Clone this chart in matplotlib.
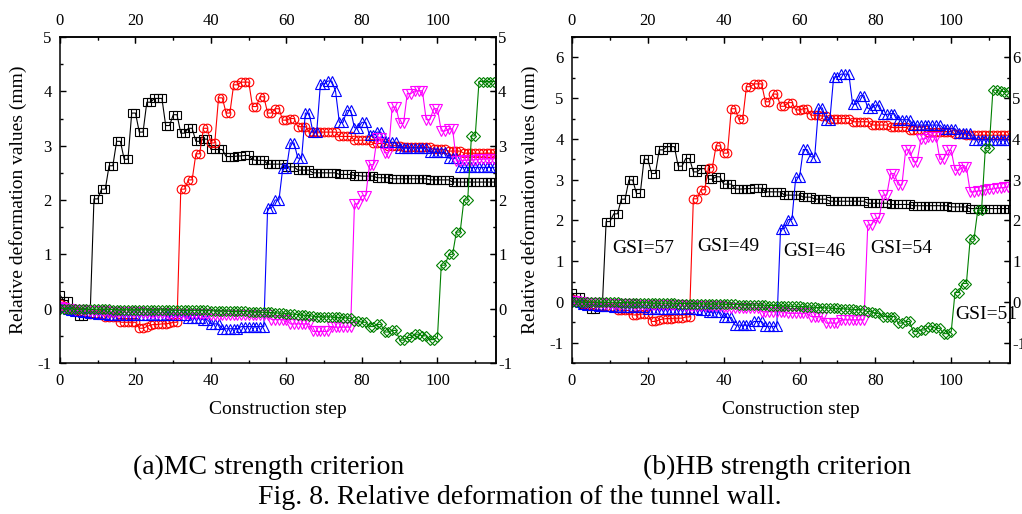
import matplotlib
matplotlib.use("Agg")
import matplotlib.pyplot as plt
from matplotlib.ticker import MultipleLocator

plt.rcParams['font.family'] = ['Liberation Serif', 'DejaVu Serif']
plt.rcParams['axes.unicode_minus'] = False

steps = list(range(116))

# ---------------- (a) MC strength criterion ----------------
mc_black = [
    0.25, 0.15, 0.15, -0.03, -0.05, -0.13, -0.13, -0.08, -0.08, 2.02,
    2.02, 2.20, 2.20, 2.63, 2.63, 3.08, 3.08, 2.75, 2.75, 3.60,
    3.60, 3.25, 3.25, 3.80, 3.80, 3.87, 3.87, 3.87, 3.37, 3.37,
    3.57, 3.57, 3.23, 3.23, 3.32, 3.32, 3.08, 3.08, 3.12, 3.12,
    2.93, 2.93, 2.93, 2.93, 2.80, 2.80, 2.80, 2.81, 2.81, 2.82,
    2.82, 2.74, 2.73, 2.73, 2.73, 2.66, 2.66, 2.66, 2.66, 2.66,
    2.61, 2.61, 2.61, 2.55, 2.55, 2.55, 2.55, 2.50, 2.50, 2.50,
    2.50, 2.50, 2.50, 2.50, 2.47, 2.47, 2.47, 2.47, 2.45, 2.45,
    2.44, 2.44, 2.44, 2.44, 2.41, 2.41, 2.41, 2.41, 2.39, 2.39,
    2.39, 2.39, 2.39, 2.39, 2.39, 2.39, 2.39, 2.39, 2.37, 2.37,
    2.37, 2.37, 2.37, 2.37, 2.33, 2.33, 2.33, 2.33, 2.33, 2.33,
    2.33, 2.33, 2.33, 2.33, 2.33, 2.33]
mc_red = [
    0.08, 0.05, 0.00, -0.03, -0.05, -0.06, -0.07, -0.08, -0.09, -0.09,
    -0.10, -0.10, -0.15, -0.15, -0.15, -0.15, -0.25, -0.25, -0.25, -0.25,
    -0.25, -0.36, -0.36, -0.33, -0.30, -0.29, -0.29, -0.28, -0.28, -0.27,
    -0.25, -0.25, 2.20, 2.20, 2.37, 2.37, 2.85, 2.85, 3.32, 3.32,
    3.05, 3.05, 3.88, 3.88, 3.60, 3.60, 4.12, 4.12, 4.17, 4.17,
    4.17, 3.72, 3.72, 3.90, 3.90, 3.60, 3.60, 3.68, 3.68, 3.47,
    3.47, 3.50, 3.50, 3.35, 3.35, 3.35, 3.25, 3.25, 3.25, 3.25,
    3.25, 3.25, 3.25, 3.25, 3.17, 3.17, 3.17, 3.17, 3.10, 3.10,
    3.10, 3.10, 3.10, 3.04, 3.04, 3.04, 3.04, 3.00, 3.00, 3.00,
    3.00, 2.97, 2.97, 2.97, 2.97, 2.97, 2.97, 2.97, 2.97, 2.93,
    2.93, 2.93, 2.93, 2.90, 2.90, 2.90, 2.90, 2.86, 2.86, 2.86,
    2.86, 2.86, 2.86, 2.86, 2.86, 2.86]
mc_blue = [
    0.05, 0.03, 0.00, -0.03, -0.05, -0.05, -0.06, -0.07, -0.08, -0.08,
    -0.09, -0.10, -0.10, -0.11, -0.11, -0.11, -0.12, -0.12, -0.12, -0.12,
    -0.12, -0.12, -0.12, -0.12, -0.12, -0.12, -0.12, -0.12, -0.12, -0.12,
    -0.12, -0.12, -0.12, -0.12, -0.18, -0.18, -0.18, -0.18, -0.20, -0.20,
    -0.28, -0.28, -0.28, -0.37, -0.37, -0.37, -0.37, -0.37, -0.33, -0.33,
    -0.33, -0.33, -0.33, -0.33, -0.33, 1.85, 1.85, 2.00, 2.00, 2.58,
    2.58, 3.05, 3.05, 2.77, 2.77, 3.60, 3.60, 3.25, 3.25, 4.14,
    4.14, 4.19, 4.19, 4.00, 3.43, 3.43, 3.65, 3.65, 3.33, 3.33,
    3.43, 3.43, 3.19, 3.19, 3.25, 3.25, 3.06, 3.06, 3.06, 3.06,
    2.96, 2.96, 2.96, 2.96, 2.96, 2.96, 2.96, 2.96, 2.88, 2.88,
    2.88, 2.88, 2.88, 2.77, 2.77, 2.77, 2.60, 2.60, 2.60, 2.60,
    2.60, 2.60, 2.60, 2.60, 2.60, 2.60]
mc_magenta = [
    0.03, 0.02, 0.00, -0.01, -0.02, -0.02, -0.03, -0.03, -0.04, -0.04,
    -0.05, -0.05, -0.05, -0.06, -0.06, -0.06, -0.06, -0.07, -0.07, -0.07,
    -0.07, -0.07, -0.08, -0.08, -0.08, -0.08, -0.08, -0.08, -0.08, -0.09,
    -0.09, -0.10, -0.10, -0.10, -0.10, -0.10, -0.10, -0.10, -0.10, -0.10,
    -0.11, -0.11, -0.11, -0.11, -0.11, -0.11, -0.12, -0.12, -0.12, -0.12,
    -0.12, -0.12, -0.12, -0.12, -0.12, -0.12, -0.20, -0.20, -0.20, -0.20,
    -0.20, -0.28, -0.28, -0.28, -0.28, -0.28, -0.28, -0.42, -0.42, -0.42,
    -0.42, -0.42, -0.34, -0.34, -0.34, -0.34, -0.34, -0.34, 1.93, 1.93,
    2.08, 2.08, 2.65, 2.65, 3.15, 3.15, 2.87, 2.87, 3.71, 3.71,
    3.41, 3.41, 3.96, 3.96, 4.01, 4.01, 4.01, 3.48, 3.48, 3.68,
    3.68, 3.27, 3.27, 3.31, 3.31, 2.72, 2.72, 2.73, 2.73, 2.74,
    2.74, 2.75, 2.75, 2.76, 2.76, 2.76]
mc_green = [
    0.00, 0.00, 0.00, 0.00, -0.01, -0.01, -0.01, -0.01, -0.01, -0.01,
    -0.01, -0.01, -0.01, -0.01, -0.02, -0.02, -0.02, -0.02, -0.02, -0.02,
    -0.02, -0.02, -0.02, -0.02, -0.02, -0.02, -0.02, -0.02, -0.02, -0.02,
    -0.03, -0.03, -0.03, -0.03, -0.03, -0.03, -0.03, -0.03, -0.03, -0.03,
    -0.04, -0.04, -0.04, -0.04, -0.04, -0.05, -0.05, -0.05, -0.05, -0.05,
    -0.06, -0.06, -0.06, -0.06, -0.07, -0.07, -0.07, -0.08, -0.08, -0.08,
    -0.09, -0.10, -0.10, -0.11, -0.12, -0.12, -0.13, -0.14, -0.15, -0.15,
    -0.15, -0.15, -0.15, -0.16, -0.16, -0.17, -0.17, -0.18, -0.23, -0.23,
    -0.25, -0.25, -0.33, -0.33, -0.29, -0.29, -0.43, -0.43, -0.40, -0.40,
    -0.58, -0.58, -0.53, -0.53, -0.47, -0.47, -0.50, -0.50, -0.57, -0.57,
    -0.52, 0.80, 0.80, 1.00, 1.00, 1.41, 1.41, 2.00, 2.00, 3.18,
    3.18, 4.18, 4.18, 4.18, 4.18, 4.18]

# ---------------- (b) HB strength criterion ----------------
hb_black = [
    0.22, 0.12, 0.12, -0.05, -0.08, -0.17, -0.17, -0.10, -0.10, 1.97,
    1.97, 2.16, 2.16, 2.52, 2.52, 2.99, 2.99, 2.66, 2.66, 3.50,
    3.50, 3.15, 3.15, 3.73, 3.73, 3.81, 3.81, 3.81, 3.33, 3.33,
    3.52, 3.52, 3.19, 3.19, 3.27, 3.27, 3.01, 3.01, 3.07, 3.07,
    2.89, 2.89, 2.89, 2.77, 2.77, 2.77, 2.78, 2.78, 2.79, 2.79,
    2.79, 2.70, 2.70, 2.70, 2.70, 2.70, 2.62, 2.62, 2.62, 2.62,
    2.62, 2.57, 2.57, 2.57, 2.52, 2.52, 2.52, 2.52, 2.47, 2.47,
    2.47, 2.47, 2.47, 2.47, 2.47, 2.47, 2.47, 2.47, 2.42, 2.42,
    2.42, 2.42, 2.42, 2.42, 2.39, 2.39, 2.39, 2.39, 2.39, 2.39,
    2.36, 2.36, 2.36, 2.36, 2.36, 2.36, 2.36, 2.36, 2.36, 2.36,
    2.33, 2.33, 2.33, 2.33, 2.33, 2.29, 2.29, 2.29, 2.29, 2.29,
    2.29, 2.29, 2.29, 2.29, 2.29, 2.29]
hb_red = [
    0.08, 0.05, 0.00, -0.05, -0.07, -0.08, -0.09, -0.10, -0.11, -0.11,
    -0.12, -0.12, -0.20, -0.20, -0.21, -0.21, -0.32, -0.32, -0.30, -0.30,
    -0.30, -0.48, -0.48, -0.44, -0.42, -0.41, -0.41, -0.40, -0.40, -0.40,
    -0.37, -0.37, 2.53, 2.53, 2.75, 2.75, 3.29, 3.29, 3.83, 3.83,
    3.65, 3.65, 4.74, 4.74, 4.48, 4.48, 5.28, 5.28, 5.35, 5.35,
    5.35, 4.91, 4.91, 5.10, 5.10, 4.80, 4.80, 4.89, 4.89, 4.71,
    4.71, 4.74, 4.74, 4.58, 4.58, 4.58, 4.56, 4.56, 4.50, 4.50,
    4.50, 4.50, 4.50, 4.50, 4.42, 4.42, 4.42, 4.42, 4.42, 4.34,
    4.34, 4.34, 4.34, 4.34, 4.28, 4.28, 4.28, 4.28, 4.28, 4.22,
    4.22, 4.22, 4.22, 4.22, 4.18, 4.18, 4.18, 4.18, 4.18, 4.18,
    4.18, 4.12, 4.12, 4.12, 4.09, 4.09, 4.09, 4.09, 4.09, 4.09,
    4.09, 4.09, 4.09, 4.09, 4.09, 4.09]
hb_blue = [
    0.05, 0.03, 0.00, -0.05, -0.07, -0.08, -0.08, -0.09, -0.10, -0.10,
    -0.10, -0.12, -0.12, -0.12, -0.12, -0.12, -0.12, -0.12, -0.12, -0.12,
    -0.18, -0.18, -0.18, -0.18, -0.18, -0.18, -0.18, -0.18, -0.18, -0.18,
    -0.18, -0.18, -0.18, -0.18, -0.20, -0.20, -0.25, -0.25, -0.25, -0.25,
    -0.38, -0.38, -0.38, -0.57, -0.57, -0.57, -0.57, -0.57, -0.48, -0.48,
    -0.48, -0.60, -0.60, -0.60, -0.60, 1.80, 1.80, 2.02, 2.02, 3.06,
    3.06, 3.74, 3.74, 3.56, 3.56, 4.76, 4.76, 4.47, 4.47, 5.52,
    5.52, 5.59, 5.59, 5.59, 4.85, 4.85, 5.06, 5.06, 4.75, 4.75,
    4.83, 4.83, 4.60, 4.60, 4.62, 4.62, 4.47, 4.47, 4.47, 4.47,
    4.34, 4.34, 4.34, 4.34, 4.34, 4.34, 4.34, 4.34, 4.25, 4.25,
    4.25, 4.25, 4.14, 4.14, 4.14, 4.14, 3.98, 3.98, 3.98, 3.98,
    3.98, 3.98, 3.98, 3.98, 3.98, 3.98]
hb_magenta = [
    0.03, 0.02, 0.00, -0.01, -0.02, -0.02, -0.03, -0.03, -0.03, -0.04,
    -0.04, -0.05, -0.05, -0.05, -0.06, -0.06, -0.06, -0.07, -0.07, -0.08,
    -0.08, -0.08, -0.08, -0.08, -0.08, -0.08, -0.08, -0.08, -0.08, -0.08,
    -0.10, -0.10, -0.10, -0.10, -0.10, -0.10, -0.10, -0.10, -0.10, -0.10,
    -0.13, -0.13, -0.14, -0.14, -0.15, -0.15, -0.15, -0.16, -0.16, -0.16,
    -0.24, -0.24, -0.24, -0.24, -0.24, -0.24, -0.24, -0.28, -0.28, -0.28,
    -0.28, -0.28, -0.28, -0.36, -0.36, -0.36, -0.36, -0.52, -0.52, -0.52,
    -0.52, -0.44, -0.44, -0.44, -0.44, -0.44, -0.44, -0.44, 1.89, 1.89,
    2.05, 2.05, 2.62, 2.62, 3.15, 3.15, 2.87, 2.87, 3.73, 3.73,
    3.44, 3.44, 4.00, 4.00, 4.05, 4.05, 4.05, 3.50, 3.50, 3.72,
    3.72, 3.23, 3.23, 3.31, 3.31, 2.70, 2.70, 2.72, 2.73, 2.75,
    2.76, 2.77, 2.79, 2.80, 2.81, 2.82]
hb_green = [
    0.00, 0.00, 0.00, -0.01, -0.01, -0.01, -0.01, -0.01, -0.01, -0.01,
    -0.01, -0.01, -0.01, -0.02, -0.02, -0.02, -0.02, -0.02, -0.02, -0.02,
    -0.02, -0.03, -0.03, -0.03, -0.03, -0.03, -0.03, -0.03, -0.04, -0.04,
    -0.04, -0.04, -0.04, -0.04, -0.05, -0.05, -0.05, -0.05, -0.05, -0.05,
    -0.06, -0.06, -0.06, -0.06, -0.07, -0.07, -0.07, -0.07, -0.08, -0.08,
    -0.08, -0.08, -0.09, -0.09, -0.09, -0.10, -0.10, -0.10, -0.11, -0.11,
    -0.11, -0.12, -0.12, -0.13, -0.13, -0.14, -0.14, -0.15, -0.15, -0.16,
    -0.16, -0.17, -0.17, -0.18, -0.18, -0.19, -0.19, -0.20, -0.24, -0.24,
    -0.28, -0.28, -0.36, -0.36, -0.36, -0.36, -0.52, -0.52, -0.48, -0.48,
    -0.73, -0.73, -0.69, -0.69, -0.61, -0.61, -0.65, -0.65, -0.78, -0.78,
    -0.73, 0.23, 0.23, 0.45, 0.45, 1.54, 1.54, 2.25, 2.25, 3.77,
    3.77, 5.20, 5.19, 5.17, 5.16, 5.15]

gsi_labels = ["GSI=57", "GSI=49", "GSI=46", "GSI=54", "GSI=51"]
gsi_x = [10.5, 33.1, 55.8, 78.6, 101.0]
gsi_y = [1.32, 1.35, 1.23, 1.30, -0.30]

series_style = [
    ("black", "s", 5.8),
    ("#ff0000", "o", 6.2),
    ("#0000ff", "^", 7.0),
    ("#ff00ff", "v", 7.0),
    ("#008000", "D", 4.7),
]

W, H = 1022, 514
fig = plt.figure(figsize=(W / 100, H / 100), dpi=100)
TICK_FS = 12


def make_axes(left_px, right_px, top_px, bottom_px):
    return fig.add_axes([left_px / W, 1 - bottom_px / H,
                         (right_px - left_px) / W, (bottom_px - top_px) / H])


def style_axes(ax, ylim, ymaj):
    ax.set_xlim(0, 115.5)
    ax.set_ylim(*ylim)
    ax.xaxis.set_major_locator(MultipleLocator(20))
    ax.xaxis.set_minor_locator(MultipleLocator(10))
    ax.yaxis.set_major_locator(MultipleLocator(ymaj))
    ax.yaxis.set_minor_locator(MultipleLocator(ymaj / 2))
    for sp in ax.spines.values():
        sp.set_linewidth(1.1)
    ax.tick_params(which='both', direction='in', labelsize=TICK_FS, width=1.0,
                   top=True, right=True)
    ax.tick_params(which='major', length=4)
    ax.tick_params(which='minor', length=2.5)
    ax.tick_params(axis='x', pad=7.5)
    ax.tick_params(axis='y', pad=6)
    sx = ax.secondary_xaxis('top')
    sx.xaxis.set_major_locator(MultipleLocator(20))
    sx.xaxis.set_minor_locator(MultipleLocator(10))
    sx.tick_params(which='both', direction='in', labelsize=TICK_FS, pad=6)
    sx.tick_params(which='major', length=4)
    sx.tick_params(which='minor', length=2.5)
    sy = ax.secondary_yaxis('right')
    sy.yaxis.set_major_locator(MultipleLocator(ymaj))
    sy.yaxis.set_minor_locator(MultipleLocator(ymaj / 2))
    sy.tick_params(which='both', direction='in', labelsize=TICK_FS, pad=1.5)
    sy.tick_params(which='major', length=4)
    sy.tick_params(which='minor', length=2.5)
    for s in (sx, sy):
        for sp in s.spines.values():
            sp.set_linewidth(1.1)
    ax.set_xlabel("Construction step", fontsize=14)
    ax.set_ylabel("Relative deformation values (mm)", fontsize=14)
    ax.xaxis.set_label_coords(0.5, -0.144)
    ax.xaxis.label.set_va('center')
    ax.yaxis.set_label_coords(-0.096, 0.5)
    ax.yaxis.label.set_va('center')


def draw_series(ax, data):
    for (col, mk, ms), ys in zip(series_style, data):
        ax.plot(steps, ys, color=col, lw=0.8, marker=mk, ms=ms,
                mfc='none', mec=col, mew=0.8, clip_on=True)


ax1 = make_axes(60, 496, 37, 363)
draw_series(ax1, [mc_black, mc_red, mc_blue, mc_magenta, mc_green])
style_axes(ax1, (-1, 5), 1)

ax2 = make_axes(572, 1010, 37, 363)
draw_series(ax2, [hb_black, hb_red, hb_blue, hb_magenta, hb_green])
style_axes(ax2, (-1.5, 6.5), 1)

for lab, gx, gy in zip(gsi_labels, gsi_x, gsi_y):
    ax2.text(gx, gy, lab, fontsize=14, ha='left', va='center', clip_on=False)

fig.text(268.5 / W, 1 - 467 / H, "(a)MC strength criterion", fontsize=20,
         ha='center', va='center')
fig.text(777 / W, 1 - 467 / H, "(b)HB strength criterion", fontsize=20,
         ha='center', va='center')
fig.text(520 / W, 1 - 497 / H, "Fig. 8. Relative deformation of the tunnel wall.",
         fontsize=20, ha='center', va='center')

fig.savefig("out.png", dpi=100)
